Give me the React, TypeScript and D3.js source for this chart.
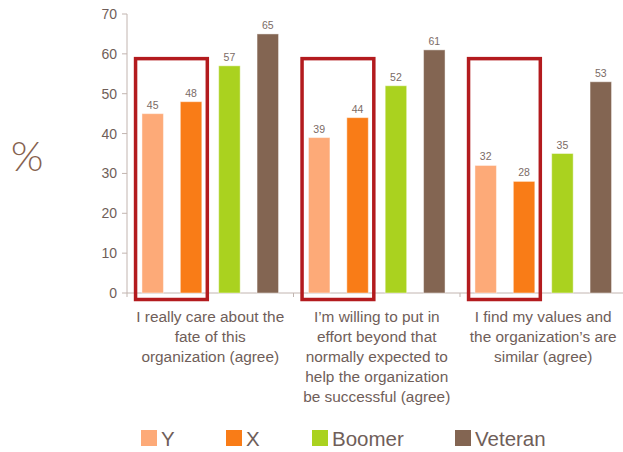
import React from "react";
import * as d3 from "d3";

const categories = ["c1", "c2", "c3"];
const categoryLabels = [
  ["I really care about the", "fate of this", "organization (agree)"],
  ["I\u2019m willing to put in", "effort beyond that", "normally expected to", "help the organization", "be successful (agree)"],
  ["I find my values and", "the organization\u2019s are", "similar (agree)"],
];
const seriesNames = ["Y", "X", "Boomer", "Veteran"];
const seriesColors = ["#FDAA78", "#F97C17", "#AAD21F", "#836552"];
const valuesY = [45, 39, 32];
const valuesX = [48, 44, 28];
const valuesBoomer = [57, 52, 35];
const valuesVeteran = [65, 61, 53];
const yTicks = [0, 10, 20, 30, 40, 50, 60, 70];
const highlightTop = 58.8;

const W = 623;
const H = 452;

export default function App() {
  const series = [valuesY, valuesX, valuesBoomer, valuesVeteran];
  const y = d3.scaleLinear().domain([0, 70]).range([293, 14]);
  const x0 = d3.scaleBand<string>().domain(categories).range([127, 626.5]).padding(0);
  const x1 = d3
    .scaleBand<string>()
    .domain(seriesNames)
    .range([0, x0.bandwidth()])
    .paddingInner(0.44)
    .paddingOuter(0.39);
  const bw = x1.bandwidth();
  const axisColor = "#c2b5b0";
  const textColor = "#6f5e59";
  const font = "'Liberation Sans', Arial, sans-serif";

  const legendX = [141, 226, 312, 455];

  return (
    <svg
      width={W}
      height={H}
      style={{ position: "absolute", left: 0, top: 0, background: "#fff" }}
      fontFamily={font}
    >
      {/* % label */}
      <text x={27} y={171} textAnchor="middle" fontSize={42} fontWeight={300} fill="#86624f" fontFamily="Lato, 'Open Sans', sans-serif">
        %
      </text>

      {/* y axis */}
      <line x1={127} x2={127} y1={y(70)} y2={297} stroke={axisColor} strokeWidth={1} />
      {yTicks.map((t) => (
        <g key={t}>
          <line x1={122} x2={127} y1={y(t)} y2={y(t)} stroke={axisColor} />
          <text x={117} y={y(t) + 5} textAnchor="end" fontSize={14} fill={textColor}>
            {t}
          </text>
        </g>
      ))}

      {/* x axis */}
      <line x1={127} x2={623} y1={y(0)} y2={y(0)} stroke={axisColor} />
      {categories.slice(1).map((c) => (
        <line key={c} x1={x0(c)!} x2={x0(c)!} y1={y(0)} y2={y(0) + 4} stroke={axisColor} />
      ))}

      {/* bars */}
      {categories.map((c, ci) => (
        <g key={c}>
          {seriesNames.map((s, si) => {
            const v = series[si][ci];
            const bx = x0(c)! + x1(s)!;
            return (
              <g key={s}>
                <rect
                  x={bx}
                  y={y(v)}
                  width={bw}
                  height={y(0) - y(v)}
                  fill={seriesColors[si]}
                  stroke="#ffffff"
                  strokeOpacity={0.45}
                  strokeWidth={1}
                />
                <text x={bx + bw / 2} y={y(v) - 5} textAnchor="middle" fontSize={10.5} fill="#7b6b66">
                  {v}
                </text>
              </g>
            );
          })}
        </g>
      ))}

      {/* highlight rectangles */}
      {categories.map((c) => {
        const left = x0(c)! + x1("Y")! - 6.4;
        const right = x0(c)! + x1("X")! + bw + 5.5;
        return (
          <rect
            key={c}
            x={left}
            y={y(highlightTop)}
            width={right - left}
            height={y(0) + 6.5 - y(highlightTop)}
            fill="none"
            stroke="#B31B1E"
            strokeWidth={3.5}
          />
        );
      })}

      {/* category labels */}
      {categories.map((c, ci) => (
        <text
          key={c}
          x={x0(c)! + x0.bandwidth() / 2}
          textAnchor="middle"
          fontSize={15.4}
          fill={textColor}
        >
          {categoryLabels[ci].map((line, li) => (
            <tspan key={li} x={x0(c)! + x0.bandwidth() / 2} y={322 + li * 20}>
              {line}
            </tspan>
          ))}
        </text>
      ))}

      {/* legend */}
      {seriesNames.map((s, si) => (
        <g key={s}>
          <rect x={legendX[si]} y={430} width={16} height={16} fill={seriesColors[si]} />
          <text x={legendX[si] + 20} y={445.5} fontSize={20.5} fill={textColor}>
            {s}
          </text>
        </g>
      ))}
    </svg>
  );
}
